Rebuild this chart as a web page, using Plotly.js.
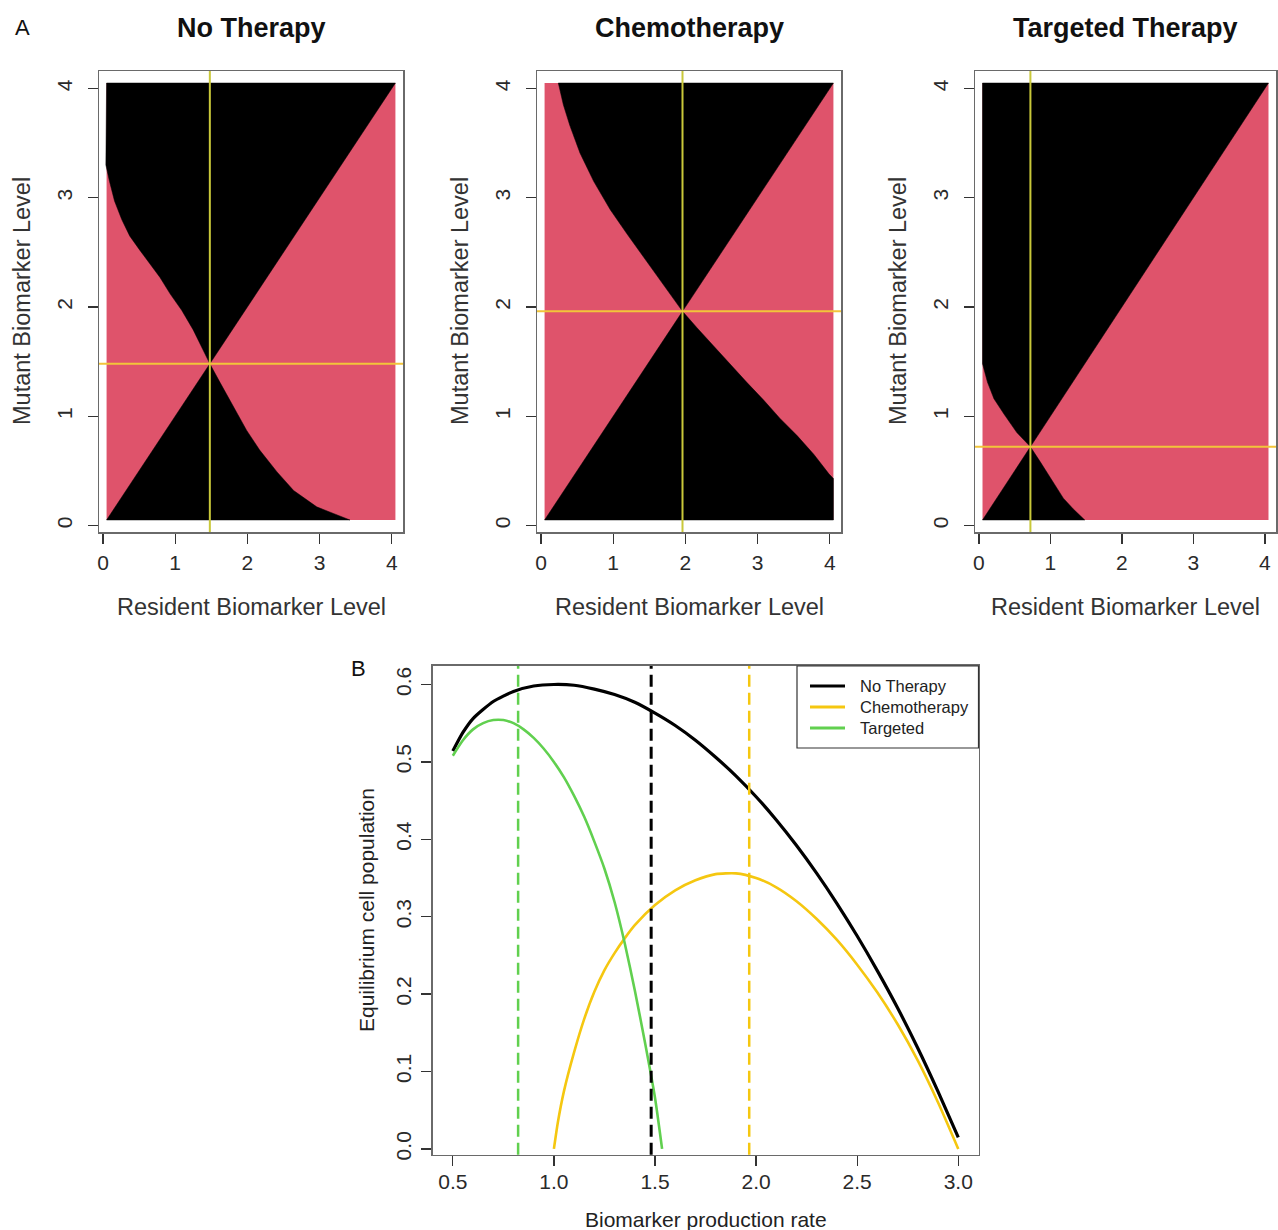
<!DOCTYPE html>
<html><head><meta charset="utf-8">
<script src="https://cdn.plot.ly/plotly-3.0.1.min.js"></script>
<style>html,body{margin:0;padding:0;background:#fff}</style>
</head><body><div id="chart" style="width:1278px;height:1230px"></div>
<script>
// ---------- Panel A: pairwise invasibility plots ----------
const panelTitles = ["No Therapy", "Chemotherapy", "Targeted Therapy"];
const singularLevels = [1.48, 1.96, 0.72];
const gridBounds = [0.05, 4.05];
const levelTicks = [0, 1, 2, 3, 4];

const noTherapyBoundaryX = [0.04, 0.09, 0.16, 0.26, 0.37, 0.51, 0.65, 0.79, 0.93, 1.09, 1.25, 1.39, 1.48, 1.62, 1.80, 1.99, 2.17, 2.41, 2.64, 2.96, 3.19, 3.42];
const noTherapyBoundaryY = [3.30, 3.15, 2.97, 2.80, 2.65, 2.52, 2.40, 2.27, 2.12, 1.97, 1.79, 1.60, 1.48, 1.31, 1.09, 0.87, 0.69, 0.49, 0.32, 0.17, 0.11, 0.05];
const chemoBoundaryX = [0.24, 0.31, 0.40, 0.54, 0.73, 0.96, 1.19, 1.47, 1.74, 1.96, 2.16, 2.39, 2.62, 2.85, 3.08, 3.31, 3.55, 3.78, 3.99, 4.05];
const chemoBoundaryY = [4.05, 3.85, 3.66, 3.41, 3.15, 2.89, 2.67, 2.41, 2.16, 1.96, 1.81, 1.64, 1.48, 1.31, 1.15, 0.98, 0.82, 0.65, 0.47, 0.43];
const targetedBoundaryX = [0.05, 0.12, 0.21, 0.35, 0.53, 0.72, 0.86, 1.00, 1.18, 1.32, 1.48];
const targetedBoundaryY = [1.48, 1.31, 1.16, 1.02, 0.85, 0.72, 0.58, 0.43, 0.25, 0.15, 0.05];

// ---------- Panel B: equilibrium population ----------
const seriesNames = ["No Therapy", "Chemotherapy", "Targeted"];
const noTherapyRate = [0.5, 0.55, 0.6, 0.7, 0.8, 0.9, 1.0, 1.1, 1.2, 1.3, 1.4, 1.5, 1.6, 1.7, 1.8, 1.9, 2.0, 2.1, 2.2, 2.3, 2.4, 2.5, 2.6, 2.7, 2.8, 2.9, 3.0];
const noTherapyPop  = [0.514, 0.538, 0.556, 0.578, 0.591, 0.598, 0.600, 0.599, 0.594, 0.587, 0.577, 0.563, 0.547, 0.528, 0.506, 0.482, 0.455, 0.425, 0.392, 0.356, 0.317, 0.275, 0.230, 0.182, 0.130, 0.074, 0.015];
const chemoRate = [1.0, 1.02, 1.05, 1.1, 1.15, 1.2, 1.25, 1.3, 1.35, 1.4, 1.5, 1.6, 1.7, 1.8, 1.9, 2.0, 2.1, 2.2, 2.3, 2.4, 2.5, 2.6, 2.7, 2.8, 2.9, 3.0];
const chemoPop  = [0.0, 0.035, 0.075, 0.125, 0.168, 0.203, 0.231, 0.253, 0.272, 0.289, 0.315, 0.334, 0.347, 0.355, 0.356, 0.350, 0.338, 0.320, 0.297, 0.270, 0.238, 0.202, 0.161, 0.114, 0.060, 0.0];
const targetedRate = [0.5, 0.55, 0.6, 0.65, 0.7, 0.75, 0.8, 0.85, 0.9, 0.95, 1.0, 1.05, 1.1, 1.15, 1.2, 1.25, 1.3, 1.35, 1.4, 1.45, 1.5, 1.535];
const targetedPop  = [0.508, 0.528, 0.542, 0.550, 0.554, 0.554, 0.550, 0.542, 0.531, 0.517, 0.500, 0.480, 0.456, 0.429, 0.397, 0.362, 0.319, 0.266, 0.205, 0.138, 0.066, 0.0];
const optimalRates = [1.481, 1.966, 0.823];  // No Therapy, Chemotherapy, Targeted
const rateTicks = [0.5, 1.0, 1.5, 2.0, 2.5, 3.0];
const populationTicks = [0.0, 0.1, 0.2, 0.3, 0.4, 0.5, 0.6];

const PINK = "#DF536B", YELLOW = "#F5C710", GREEN = "#61D04F";
const FONT = "Liberation Sans, Arial, Helvetica, sans-serif";
const W = 1278, H = 1230;
const px = v => v / W, py = v => 1 - v / H;

const boundaries = [
  [noTherapyBoundaryX, noTherapyBoundaryY],
  [chemoBoundaryX, chemoBoundaryY],
  [targetedBoundaryX, targetedBoundaryY]
];

const traces = [];
const lo = gridBounds[0], hi = gridBounds[1];
boundaries.forEach(([bx, by], i) => {
  const s = singularLevels[i];
  const xa = i === 0 ? "x" : "x" + (i + 1), ya = i === 0 ? "y" : "y" + (i + 1);
  traces.push({type: "scatter", mode: "lines", xaxis: xa, yaxis: ya, showlegend: false, hoverinfo: "skip",
    x: [lo, hi, hi, lo, lo], y: [lo, lo, hi, hi, lo], fill: "toself", fillcolor: PINK, line: {width: 0, color: PINK}});
  const tx = [], ty = [];
  if (by[0] >= hi) { tx.push(bx[0]); ty.push(hi); } else { tx.push(lo); ty.push(hi); }
  for (let k = 0; k < bx.length; k++) if (bx[k] < s) { tx.push(bx[k]); ty.push(by[k]); }
  tx.push(s, hi); ty.push(s, hi);
  tx.push(tx[0]); ty.push(ty[0]);
  traces.push({type: "scatter", mode: "lines", xaxis: xa, yaxis: ya, showlegend: false, hoverinfo: "skip",
    x: tx, y: ty, fill: "toself", fillcolor: "#000", line: {width: 0.5, color: "#000"}});
  const bxs = [lo, s], bys = [lo, s];
  for (let k = 0; k < bx.length; k++) if (bx[k] > s) { bxs.push(bx[k]); bys.push(by[k]); }
  if (bys[bys.length - 1] > lo) { bxs.push(hi); bys.push(lo); }
  bxs.push(lo); bys.push(lo);
  traces.push({type: "scatter", mode: "lines", xaxis: xa, yaxis: ya, showlegend: false, hoverinfo: "skip",
    x: bxs, y: bys, fill: "toself", fillcolor: "#000", line: {width: 0.5, color: "#000"}});
});

const seriesColors = ["#000000", YELLOW, GREEN];
const bSeries = [[noTherapyRate, noTherapyPop, 3.2], [chemoRate, chemoPop, 2.6], [targetedRate, targetedPop, 2.6]];
bSeries.forEach(([xs, ys, w], i) => {
  traces.push({type: "scatter", mode: "lines", xaxis: "x4", yaxis: "y4", name: seriesNames[i], showlegend: false,
    x: xs, y: ys, line: {color: seriesColors[i], width: w, shape: "spline", smoothing: 0.6}});
});

const baseAxis = {
  showgrid: false, zeroline: false, showline: true, mirror: true, linecolor: "#6a6a6a", linewidth: 1.5,
  ticks: "outside", ticklen: 10, tickwidth: 1.3, tickcolor: "#333",
  tickfont: {family: FONT, size: 21, color: "#2a2a2a"}, fixedrange: true
};
const topY = [py(532), py(71)];
const topX = [[99, 403], [537, 841], [975, 1276]];
const layout = {
  width: W, height: H, margin: {l: 0, r: 0, t: 0, b: 0},
  paper_bgcolor: "#fff", plot_bgcolor: "#fff", font: {family: FONT},
  showlegend: false, shapes: [], annotations: []
};
topX.forEach((d, i) => {
  const xk = i === 0 ? "xaxis" : "xaxis" + (i + 1), yk = i === 0 ? "yaxis" : "yaxis" + (i + 1);
  const xa = i === 0 ? "x" : "x" + (i + 1), ya = i === 0 ? "y" : "y" + (i + 1);
  layout[xk] = Object.assign({}, baseAxis, {domain: [px(d[0]), px(d[1])], range: [-0.055, 4.155], anchor: ya,
    tickvals: levelTicks, ticktext: levelTicks.map(String), ticklabelstandoff: 1});
  layout[yk] = Object.assign({}, baseAxis, {domain: topY, range: [-0.06, 4.16], anchor: xa,
    tickvals: levelTicks, ticktext: levelTicks.map(String), tickangle: -90, ticklabelstandoff: 7});
  const s = singularLevels[i];
  layout.shapes.push({type: "line", xref: xa, yref: ya + " domain", x0: s, x1: s, y0: 0, y1: 1,
    line: {color: "#c9c83a", width: 2}});
  layout.shapes.push({type: "line", xref: xa + " domain", yref: ya, x0: 0, x1: 1, y0: s, y1: s,
    line: {color: "#f2c53a", width: 2}});
  const cx = (d[0] + d[1]) / 2;
  layout.annotations.push({text: "<b>" + panelTitles[i] + "</b>", xref: "paper", yref: "paper",
    x: px(cx), y: py(28), xanchor: "center", yanchor: "middle", showarrow: false,
    font: {family: FONT, size: 27, color: "#111"}});
  layout.annotations.push({text: "Resident Biomarker Level", xref: "paper", yref: "paper",
    x: px(cx), y: py(607), xanchor: "center", yanchor: "middle", showarrow: false,
    font: {family: FONT, size: 23.5, color: "#333"}});
  layout.annotations.push({text: "Mutant Biomarker Level", xref: "paper", yref: "paper",
    x: px(d[0] - 77), y: py(301), xanchor: "center", yanchor: "middle", showarrow: false, textangle: -90,
    font: {family: FONT, size: 23.5, color: "#333"}});
});
layout.xaxis4 = Object.assign({}, baseAxis, {domain: [px(432.6), px(978.5)], range: [0.4, 3.1], anchor: "y4",
  tickvals: rateTicks, ticktext: rateTicks.map(v => v.toFixed(1)), ticklabelstandoff: -3});
layout.yaxis4 = Object.assign({}, baseAxis, {domain: [py(1154.8), py(665.9)], range: [-0.0076, 0.624], anchor: "x4",
  tickvals: populationTicks, ticktext: populationTicks.map(v => v.toFixed(1)), tickangle: -90, ticklabelstandoff: 2});
optimalRates.forEach((r, i) => {
  layout.shapes.push({type: "line", xref: "x4", yref: "y4 domain", x0: r, x1: r, y0: 0, y1: 1,
    line: {color: seriesColors[i], width: i === 0 ? 3 : 2.5, dash: "12px,6px"}});
});

// legend for panel B (box, line samples, labels)
const legendRows = [686, 707, 728];
layout.shapes.push({type: "rect", xref: "paper", yref: "paper", x0: px(797), x1: px(978.5), y0: py(748), y1: py(666),
  line: {color: "#333", width: 1.2}, fillcolor: "#fff"});
seriesNames.forEach((n, i) => {
  layout.shapes.push({type: "line", xref: "paper", yref: "paper", x0: px(810), x1: px(845), y0: py(legendRows[i]), y1: py(legendRows[i]),
    line: {color: seriesColors[i], width: 3}});
  layout.annotations.push({text: n, xref: "paper", yref: "paper", x: px(858), y: py(legendRows[i]),
    xanchor: "left", yanchor: "middle", showarrow: false, font: {family: FONT, size: 16.5, color: "#222"}});
});

layout.annotations.push({text: "A", xref: "paper", yref: "paper", x: px(22), y: py(28),
  xanchor: "center", yanchor: "middle", showarrow: false, font: {family: FONT, size: 22, color: "#111"}});
layout.annotations.push({text: "B", xref: "paper", yref: "paper", x: px(358), y: py(668),
  xanchor: "center", yanchor: "middle", showarrow: false, font: {family: FONT, size: 22, color: "#111"}});
layout.annotations.push({text: "Biomarker production rate", xref: "paper", yref: "paper", x: px(705.5), y: py(1219),
  xanchor: "center", yanchor: "middle", showarrow: false, font: {family: FONT, size: 21, color: "#222"}});
layout.annotations.push({text: "Equilibrium cell population", xref: "paper", yref: "paper", x: px(366), y: py(910),
  xanchor: "center", yanchor: "middle", showarrow: false, textangle: -90, font: {family: FONT, size: 21, color: "#222"}});

Plotly.newPlot("chart", traces, layout, {displayModeBar: false, staticPlot: true});
</script>
</body></html>
